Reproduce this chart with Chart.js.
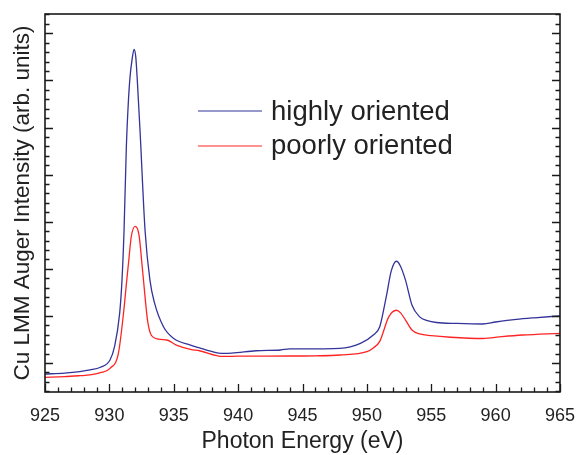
<!DOCTYPE html>
<html>
<head>
<meta charset="utf-8">
<script src="https://cdn.jsdelivr.net/npm/chart.js@4/dist/chart.umd.min.js"></script>
<style>
  html, body { margin: 0; padding: 0; background: #fff; }
  #wrap { width: 578px; height: 455px; position: relative; }
</style>
</head>
<body>
<div id="wrap"><canvas id="auger"></canvas></div>
<script>
// photon energy (eV) and intensity (arb. units)
const energyHigh = [925, 926.5, 927.7, 928.5, 929.3, 930.05, 930.4, 930.8, 930.98, 931.14, 931.32, 931.47, 931.6, 931.78,
    931.92, 932.05, 932.17, 932.38, 932.77, 933.15, 933.5, 934.2, 935.0, 936.3, 937.0, 938.0, 938.7, 939.5, 941.4, 943.3,
    944, 945, 947.9, 949.5, 950.5, 951.0, 951.5, 951.9, 952.3, 952.6, 953.0, 953.5, 954.1, 954.7, 955.4,
    957, 959.0, 960, 961.6, 963, 965];
const intensityHigh = [-1.17, -1.08, -0.92, -0.74, -0.45, 0.32, 1.73, 5.3, 8.8, 14.1, 23.0, 27.6, 30.3, 32.4,
    33.3, 32.5, 30.0, 24.7, 14.1, 8.8, 6.4, 3.85, 2.6, 1.9, 1.6, 1.2, 1.03, 1.05, 1.3, 1.38,
    1.5, 1.5, 1.56, 2.09, 2.97, 3.85, 7.0, 9.8, 10.8, 10.3, 8.8, 6.16, 4.9, 4.5, 4.3,
    4.2, 4.14, 4.35, 4.63, 4.8, 5.0];

const energyPoor = [925, 926.5, 927.7, 928.5, 929.3, 930.05, 930.7, 931.1, 931.35, 931.5, 931.7, 932.0, 932.3,
    932.6, 933.0, 933.5, 934.45, 935.2, 936.3, 937.0, 938.8, 940, 944, 946, 947.9, 950.0, 950.5,
    951.0, 951.7, 952.3, 952.6, 953.0, 953.5, 954.1, 955, 956.5, 959.0, 960.5, 962.1, 965];
const intensityPoor = [-1.52, -1.45, -1.35, -1.27, -1.03, -0.57, 1.03, 5.3, 8.8, 10.8, 13.4, 14.5, 13.6,
    9.5, 4.2, 2.65, 2.44, 1.9, 1.45, 1.3, 0.7, 0.72, 0.74, 0.76, 0.85, 1.2, 1.6,
    2.3, 4.9, 5.6, 5.35, 4.56, 3.5, 3.08, 2.9, 2.73, 2.6, 2.8, 2.97, 3.15];

const seriesNames = ['highly oriented', 'poorly oriented'];
const seriesColors = ['#333399', '#ff2424'];

const xTicks = { min: 925, max: 965, minorStep: 1, majorStep: 5 };
const yRange = { min: -3.08, max: 37.05 };

const fontFamily = "'Liberation Sans', Arial, Helvetica, sans-serif";
const inkColor = '#222';

function toPoints(xs, ys) {
    return xs.map((x, i) => ({ x: x, y: ys[i] }));
}

// frame, inward ticks and the in-plot legend
const frameAndLegend = {
    id: 'frameAndLegend',
    afterDatasetsDraw(chart) {
        const { ctx, chartArea: a, scales } = chart;
        const x = scales.x, y = scales.y;
        ctx.save();
        ctx.strokeStyle = '#1a1a1a';
        ctx.lineWidth = 1.6;
        ctx.strokeRect(a.left, a.top, a.right - a.left, a.bottom - a.top);

        ctx.lineWidth = 1.3;
        ctx.beginPath();
        for (let v = xTicks.min; v <= xTicks.max; v += xTicks.minorStep) {
            const px = Math.round(x.getPixelForValue(v)) + 0.5;
            const len = v % xTicks.majorStep === 0 ? 8 : 4.5;
            ctx.moveTo(px, a.bottom);
            ctx.lineTo(px, a.bottom - len);
        }
        for (let v = Math.ceil(yRange.min); v <= yRange.max; v++) {
            const py = Math.round(y.getPixelForValue(v)) + 0.5;
            const len = v % 5 === 0 ? 8 : 4.5;
            ctx.moveTo(a.left, py);
            ctx.lineTo(a.left + len, py);
            ctx.moveTo(a.right, py);
            ctx.lineTo(a.right - len, py);
        }
        ctx.stroke();

        // legend
        const rows = [{ ly: 111, ty: 120 }, { ly: 146, ty: 154 }];
        ctx.font = '27.5px ' + fontFamily;
        ctx.textBaseline = 'alphabetic';
        ctx.textAlign = 'left';
        rows.forEach((r, i) => {
            ctx.strokeStyle = seriesColors[i];
            ctx.lineWidth = 1.2;
            ctx.beginPath();
            ctx.moveTo(198, r.ly);
            ctx.lineTo(262, r.ly);
            ctx.stroke();
            ctx.fillStyle = inkColor;
            ctx.fillText(seriesNames[i], 271, r.ty);
        });
        ctx.restore();
    }
};

new Chart(document.getElementById('auger'), {
    type: 'line',
    data: {
        datasets: [
            {
                label: seriesNames[0],
                data: toPoints(energyHigh, intensityHigh),
                borderColor: seriesColors[0],
                borderWidth: 1.3,
                pointRadius: 0,
                cubicInterpolationMode: 'monotone',
                fill: false
            },
            {
                label: seriesNames[1],
                data: toPoints(energyPoor, intensityPoor),
                borderColor: seriesColors[1],
                borderWidth: 1.3,
                pointRadius: 0,
                cubicInterpolationMode: 'monotone',
                fill: false
            }
        ]
    },
    options: {
        responsive: true,
        maintainAspectRatio: false,
        animation: false,
        layout: { padding: { top: 14, right: 18, left: 0, bottom: 0 } },
        plugins: {
            legend: { display: false },
            tooltip: { enabled: false }
        },
        scales: {
            x: {
                type: 'linear',
                min: xTicks.min,
                max: xTicks.max,
                grid: { display: false },
                border: { display: false },
                ticks: {
                    stepSize: xTicks.minorStep,
                    autoSkip: false,
                    maxRotation: 0,
                    padding: 5,
                    color: inkColor,
                    font: { family: fontFamily, size: 18 },
                    callback: (v) => (v % xTicks.majorStep === 0 ? String(v) : '')
                },
                title: {
                    display: true,
                    text: 'Photon Energy (eV)',
                    color: inkColor,
                    font: { family: fontFamily, size: 23 },
                    padding: { top: 0, bottom: 0 }
                },
                afterFit: (scale) => {
                    scale.height = 63;
                    scale.paddingLeft = 0;
                    scale.paddingRight = 0;
                }
            },
            y: {
                type: 'linear',
                min: yRange.min,
                max: yRange.max,
                grid: { display: false },
                border: { display: false },
                ticks: { display: false },
                title: {
                    display: true,
                    text: 'Cu LMM Auger Intensity (arb. units)',
                    color: inkColor,
                    font: { family: fontFamily, size: 22.5 },
                    padding: { top: 9, bottom: 0 }
                },
                afterFit: (scale) => { scale.width = 45; }
            }
        }
    },
    plugins: [frameAndLegend]
});
</script>
</body>
</html>
